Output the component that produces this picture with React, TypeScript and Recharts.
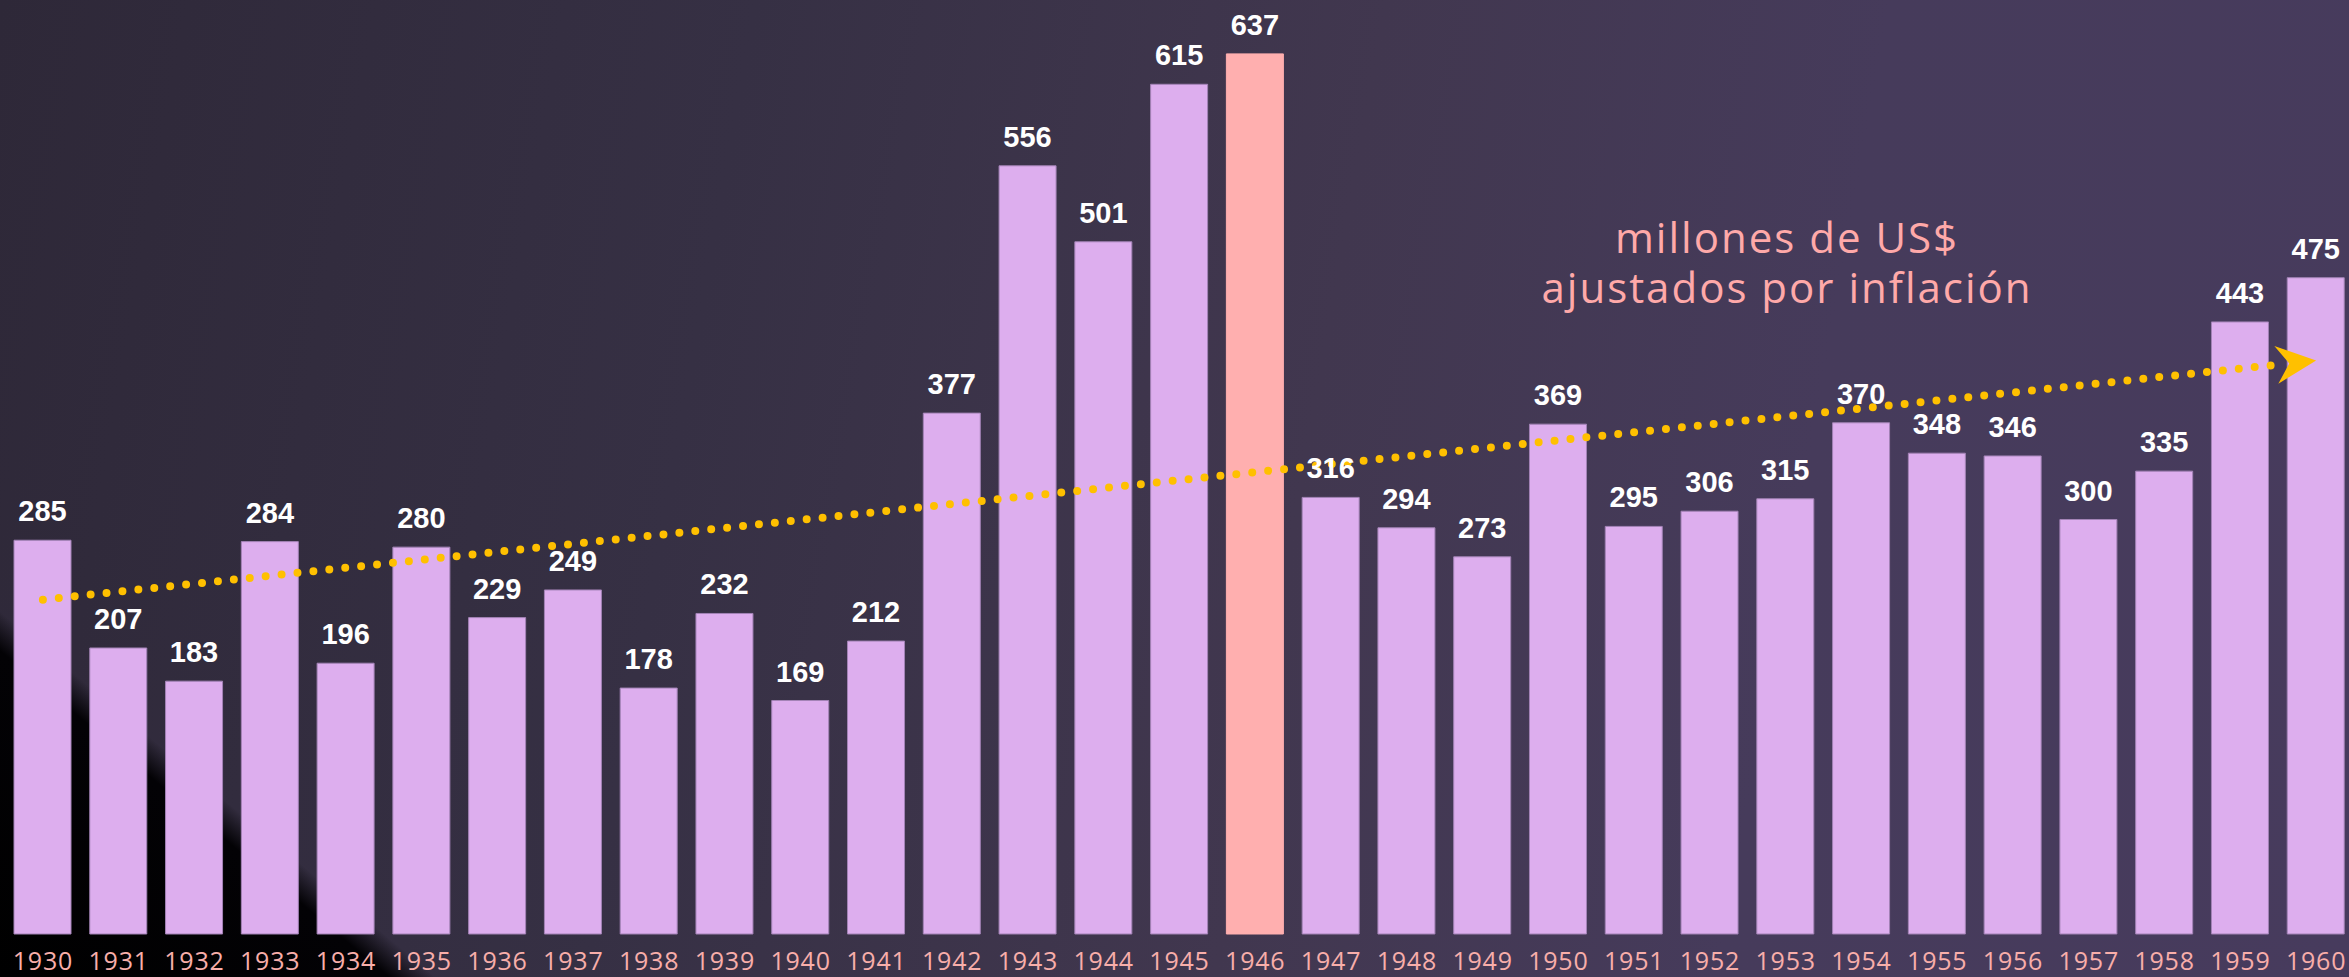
import { BarChart, Bar, XAxis, YAxis, Cell, LabelList, ReferenceLine } from 'recharts';

const years = [
  '1930', '1931', '1932', '1933', '1934', '1935', '1936', '1937', '1938', '1939', '1940',
  '1941', '1942', '1943', '1944', '1945', '1946', '1947', '1948', '1949', '1950',
  '1951', '1952', '1953', '1954', '1955', '1956', '1957', '1958', '1959', '1960',
];

const amounts = [
  285, 207, 183, 284, 196, 280, 229, 249, 178, 232, 169,
  212, 377, 556, 501, 615, 637, 316, 294, 273, 369,
  295, 306, 315, 370, 348, 346, 300, 335, 443, 475,
];

// trend line end points
const trendEnds = [
  { x: '1930', y: 242 },
  { x: '1960', y: 415 },
];

const noteLines = ['millones de US$', 'ajustados por inflación'];

const highlightYear = '1946';

const data = years.map((year, i) => ({ year, value: amounts[i] }));

const YearTick = (props: any) => {
  const { x, y, payload } = props;
  return (
    <text
      x={x}
      y={y + 36}
      textAnchor="middle"
      fill="#f8aeaa"
      fontFamily="'Open Sans', sans-serif"
      fontSize={25}
      letterSpacing={0.8}
    >
      {payload.value}
    </text>
  );
};

const TrendArrow = (props: any) => {
  const { x1, y1, x2, y2 } = props;
  const angle = Math.atan2(y2 - y1, x2 - x1);
  const deg = (angle * 180) / Math.PI;
  const ex = x2 - Math.cos(angle) * 30;
  const ey = y2 - Math.sin(angle) * 30;
  return (
    <g>
      <line
        x1={x1}
        y1={y1}
        x2={ex}
        y2={ey}
        stroke="#ffc000"
        strokeWidth={8}
        strokeLinecap="round"
        strokeDasharray="0 16"
      />
      <polygon
        points="0,0 -40,-19 -27,0 -40,19"
        fill="#ffc000"
        transform={`translate(${x2},${y2}) rotate(${deg})`}
      />
    </g>
  );
};

export default function App() {
  return (
    <div
      style={{
        position: 'absolute',
        left: 0,
        top: 0,
        width: 2349,
        height: 977,
        overflow: 'hidden',
        background:
          'linear-gradient(40deg, #000 0px, #030205 250px, rgba(0,0,0,0) 280px), linear-gradient(100deg, #2e2838 0%, #363044 30%, #41374f 55%, #463b5b 75%, #473b5d 100%)',
      }}
    >
      {noteLines.map((line, i) => (
        <div
          key={line}
          style={{
            position: 'absolute',
            left: 1787,
            top: 212 + i * 50,
            transform: 'translateX(-50%)',
            color: '#ffa9a9',
            fontFamily: "'Open Sans', sans-serif",
            fontSize: 42,
            letterSpacing: 2,
            lineHeight: '50px',
            height: 50,
            whiteSpace: 'nowrap',
          }}
        >
          {line}
        </div>
      ))}
      <BarChart
        width={2354}
        height={977}
        data={data}
        margin={{ top: 0, right: 0, bottom: 0, left: 5 }}
        barCategoryGap={0}
      >
        <XAxis
          dataKey="year"
          height={43}
          axisLine={false}
          tickLine={false}
          tickSize={0}
          tickMargin={0}
          interval={0}
          tick={<YearTick />}
        />
        <YAxis hide domain={[0, 676]} />
        <Bar dataKey="value" barSize={57} isAnimationActive={false}>
          {data.map((d) => (
            <Cell
              key={d.year}
              fill={d.year === highlightYear ? '#ffafaf' : '#ddaeee'}
              stroke={d.year === highlightYear ? '#ffafaf' : '#a383b6'}
              strokeWidth={1}
            />
          ))}
          <LabelList
            dataKey="value"
            position="top"
            offset={19}
            fill="#ffffff"
            fontFamily="'Liberation Sans', Arial, sans-serif"
            fontWeight="bold"
            fontSize={29}
          />
        </Bar>
        <ReferenceLine segment={trendEnds} ifOverflow="visible" shape={<TrendArrow />} />
      </BarChart>
    </div>
  );
}
